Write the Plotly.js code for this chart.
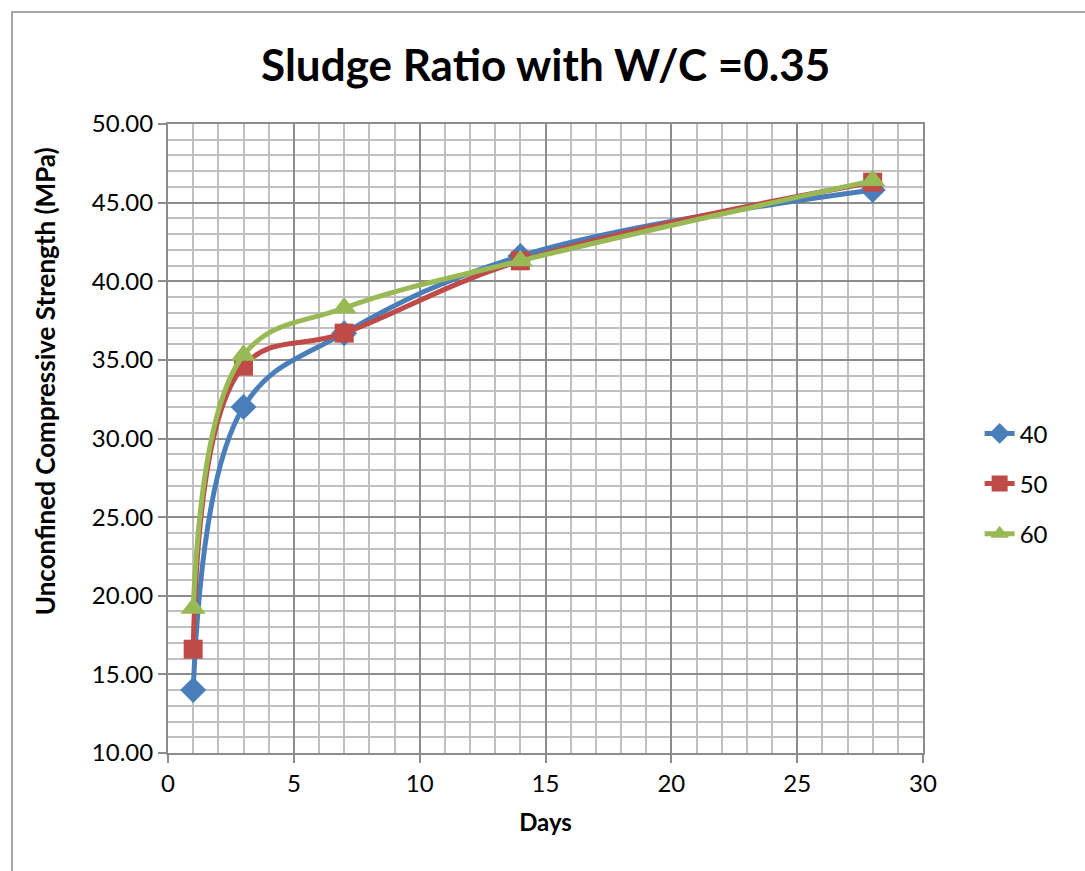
<!DOCTYPE html>
<html>
<head>
<meta charset="utf-8">
<script src="https://cdn.plot.ly/plotly-3.0.1.min.js"></script>
<style>html,body{margin:0;padding:0;background:#fff;}#chart{width:1085px;height:871px;}</style>
</head>
<body>
<div id="chart"></div>
<script>
const days = [1, 3, 7, 14, 28];
const s40 = [14.0, 32.0, 36.7, 41.6, 45.8];
const s50 = [16.6, 34.6, 36.7, 41.3, 46.3];
const s60 = [19.2, 35.3, 38.3, 41.3, 46.4];
const names = ['40', '50', '60'];
const colors = ['#4a7ebb', '#be4b48', '#98b954'];
const symbols = ['diamond', 'square', 'triangle-up'];
const sizes = [20, 19, 22];
const series = [s40, s50, s60];
const yTitle = 'Unconfined Compressive Strength (MPa)';

const traces = series.map((ys, i) => ({
  x: days, y: ys, name: names[i], legendgroup: 'g' + i, type: 'scatter', mode: 'lines+markers',
  line: {color: colors[i], width: 5, shape: 'spline', smoothing: 1.1},
  marker: {color: colors[i], symbol: symbols[i], size: sizes[i]}
}));

const font = 'Lato, "Open Sans", "Liberation Sans", sans-serif';
const layout = {
  width: 1085, height: 871,
  margin: {l: 168, r: 162, t: 124, b: 118},
  paper_bgcolor: '#fff', plot_bgcolor: '#fff',
  font: {family: font, color: '#000'},
  title: {text: '<b>Sludge Ratio with W/C =0.35</b>', font: {size: 44, family: font, color: '#000'},
          x: 0.503, xanchor: 'center', y: 0.925, yanchor: 'middle'},
  xaxis: {range: [0, 30], dtick: 5, tick0: 0, showgrid: true, gridcolor: '#8c8c8c', gridwidth: 2,
          minor: {dtick: 1, showgrid: true, gridcolor: '#c0c0c0', gridwidth: 2},
          zeroline: false, showline: true, linecolor: '#8c8c8c', linewidth: 2, mirror: true,
          ticks: 'outside', ticklen: 8, tickcolor: '#8c8c8c', tickwidth: 2,
          tickfont: {size: 24, family: font},
          title: {text: '<b>Days</b>', font: {size: 24, family: font}, standoff: 18}},
  yaxis: {range: [10, 50], dtick: 5, tick0: 10, tickformat: '.2f', showgrid: true, gridcolor: '#8c8c8c', gridwidth: 2,
          minor: {dtick: 1, showgrid: true, gridcolor: '#c0c0c0', gridwidth: 2},
          zeroline: false, showline: true, linecolor: '#8c8c8c', linewidth: 2, mirror: true,
          ticks: 'outside', ticklen: 8, tickcolor: '#8c8c8c', tickwidth: 2,
          tickfont: {size: 24, family: font}},
  annotations: [{text: '<b>' + yTitle + '</b>', textangle: -90, xref: 'paper', yref: 'paper',
                 x: -0.163, y: 0.591, xanchor: 'center', yanchor: 'middle', showarrow: false,
                 font: {size: 26, family: font, color: '#000'}}],
  legend: {x: 1.075, y: 0.428, xanchor: 'left', yanchor: 'middle', font: {size: 24, family: font},
           tracegroupgap: 16, bgcolor: 'rgba(0,0,0,0)'},
  showlegend: true,
  shapes: [{type: 'rect', xref: 'paper', yref: 'paper', x0: -0.2066, x1: 1.4, y0: -0.4, y1: 1.178,
            line: {color: '#888', width: 1.5}, fillcolor: 'rgba(0,0,0,0)', layer: 'below'}]
};
Plotly.newPlot('chart', traces, layout, {displayModeBar: false, staticPlot: true});
</script>
</body>
</html>
